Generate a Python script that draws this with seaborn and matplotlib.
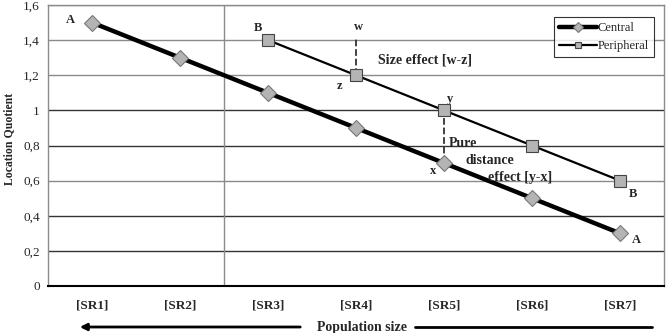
import numpy as np
import pandas as pd
import matplotlib.pyplot as plt
import seaborn as sns

categories = ['[SR1]', '[SR2]', '[SR3]', '[SR4]', '[SR5]', '[SR6]', '[SR7]']
central = [1.5, 1.3, 1.1, 0.9, 0.7, 0.5, 0.3]
peripheral = [np.nan, np.nan, 1.4, 1.2, 1.0, 0.8, 0.6]
y_ticks = [0, 0.2, 0.4, 0.6, 0.8, 1.0, 1.2, 1.4, 1.6]
y_labels = ['0', '0,2', '0,4', '0,6', '0,8', '1', '1,2', '1,4', '1,6']

df = pd.DataFrame({'pos': range(len(categories)), 'cat': categories,
                   'Central': central, 'Peripheral': peripheral})

sns.set_style('white')
plt.rcParams['font.family'] = ['Liberation Serif', 'DejaVu Serif']

fig = plt.figure(figsize=(6.71, 3.33), dpi=100)
ax = fig.add_axes([48 / 671, 1 - 286 / 333, 616 / 671, 281 / 333])

# gridlines
for v in y_ticks[1:]:
    col = '#333333' if v in (0.2, 0.4, 0.8, 1.0) else '#8a8a8a'
    ax.axhline(v, color=col, lw=1.0, zorder=0)
ax.axvline(1.5, color='#8a8a8a', lw=1.0, zorder=0)

sns.lineplot(data=df, x='pos', y='Central', ax=ax, color='black', lw=3.2,
             marker='D', markersize=8, markerfacecolor='#b4b4b4',
             markeredgecolor='#777777', markeredgewidth=0.8, label='Central', zorder=3)
sns.lineplot(data=df.dropna(), x='pos', y='Peripheral', ax=ax, color='black', lw=1.6,
             marker='s', markersize=9, markerfacecolor='#b4b4b4',
             markeredgecolor='#444444', markeredgewidth=0.8, label='Peripheral', zorder=4)

# effect markers
ax.plot([3, 3], [1.2, 1.42], ls='--', color='#333333', lw=1.3, zorder=2)
ax.plot([4, 4], [0.7, 1.0], ls='--', color='#333333', lw=1.3, zorder=2)

bold = dict(fontsize=9, fontweight='bold', va='center')
big = dict(fontsize=10, fontweight='bold', va='center', ha='left')
ax.text(-0.25, 1.515, 'A', ha='center', **bold)
ax.text(1.89, 1.47, 'B', ha='center', **bold)
ax.text(3.03, 1.475, 'w', ha='center', **bold)
ax.text(2.81, 1.14, 'z', ha='center', **bold)
ax.text(3.25, 1.287, 'Size effect [w-z]', **big)
ax.text(4.07, 1.065, 'y', ha='center', **bold)
ax.text(4.05, 0.814, 'Pure', **big)
ax.text(4.24, 0.717, 'distance', **big)
ax.text(4.5, 0.62, 'effect [y-x]', **big)
ax.text(3.88, 0.655, 'x', ha='center', **bold)
ax.text(6.15, 0.524, 'B', ha='center', **bold)
ax.text(6.19, 0.262, 'A', ha='center', **bold)

ax.set_xlim(-0.5, 6.5)
ax.set_ylim(0, 1.6)
ax.set_yticks(y_ticks)
ax.set_yticklabels(y_labels, fontsize=9.5)
ax.set_xticks(np.arange(-0.5, 7, 1))
ax.set_xticklabels([])
ax.set_xticks(df['pos'], minor=True)
ax.set_xticklabels(categories, minor=True, fontsize=9.5, fontweight='bold')
ax.tick_params(axis='x', which='major', direction='out', length=4, width=1.5, color='black')
ax.tick_params(axis='x', which='minor', length=0, pad=10)
ax.tick_params(axis='y', length=0, pad=6)
ax.set_xlabel('')
ax.set_ylabel('')
fig.text(9 / 671, 1 - 139 / 333, 'Location Quotient', rotation=90, ha='center', va='center',
         fontsize=8.5, fontweight='bold')

for s in ['left', 'top', 'right']:
    ax.spines[s].set_color('#8a8a8a')
    ax.spines[s].set_linewidth(1.0)
ax.spines['bottom'].set_color('black')
ax.spines['bottom'].set_linewidth(1.5)

leg = ax.legend(loc='upper right', bbox_to_anchor=(0.99, 0.97), fontsize=9,
                frameon=True, fancybox=False, borderpad=0.4, handlelength=3.0,
                handletextpad=0.1, labelspacing=0.5, borderaxespad=0.3)
leg.get_frame().set_edgecolor('black')
leg.get_frame().set_linewidth(0.8)
for h in leg.legend_handles:
    h.set_markersize(5)

# x axis label with arrow
fy = 1 - 327 / 333
fig.text(362 / 671, fy, 'Population size', ha='center', va='center', fontsize=10, fontweight='bold')
fig.add_artist(plt.Line2D([415 / 671, 652 / 671], [fy, fy], color='black', lw=2))
ax.annotate('', xy=(77 / 671, fy), xycoords='figure fraction',
            xytext=(303 / 671, fy), textcoords='figure fraction',
            arrowprops=dict(arrowstyle='-|>', color='black', lw=2, mutation_scale=10))

fig.savefig('out.png', dpi=100)
